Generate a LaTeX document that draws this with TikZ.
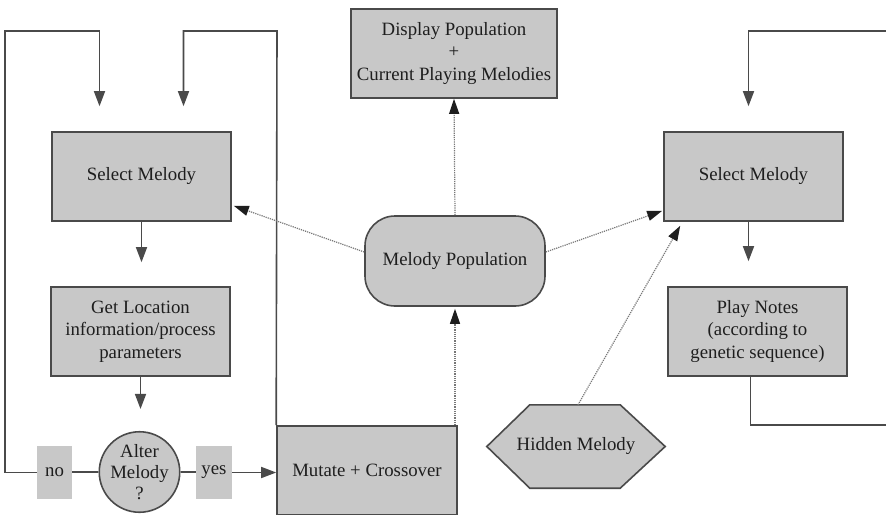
\documentclass[tikz,border=0pt]{standalone}
\usepackage{fontspec}
\setmainfont{Liberation Serif}
\usetikzlibrary{arrows.meta,calc}
\definecolor{boxfill}{HTML}{C8C8C8}
\definecolor{edge}{HTML}{4A4A4A}
\definecolor{ink}{HTML}{1E1E1E}
\pgfdeclarelayer{back}
\pgfsetlayers{back,main}
\begin{document}
\begin{tikzpicture}[x=1pt,y=-1pt,
  every node/.style={font=\fontsize{18.8}{22.5}\selectfont, text=ink},
  block/.style={draw=edge, fill=boxfill, line width=1.6pt, align=center, inner sep=0pt},
  tag/.style={fill=boxfill, inner sep=0pt, minimum width=35pt, minimum height=53pt},
  solidline/.style={draw=edge, line width=1.6pt},
  flow/.style={solidline, -{Triangle[length=15pt,width=11pt]}},
  dots/.style={draw=edge!75, line width=1.2pt, densely dotted,
               -{Triangle[length=15pt,width=10pt,color=ink]}},
]
\useasboundingbox (0,0) rectangle (886,514);

% left loop: selection and mutation
\node[block, minimum width=179pt, minimum height=89pt] (sel1) at (141.5,176.5) {Select Melody};
\node[block, minimum width=179pt, minimum height=89pt] (loc) at (140.5,331.5)
  {Get Location\\information/process\\parameters};
\node[block, circle, minimum size=74pt, font=\fontsize{18.8}{21}\selectfont] (alter) at (139.5,472)
  {Alter\\Melody\\?};
\node[block, minimum width=180pt, minimum height=89pt] (mut) at (367,470.5) {Mutate + Crossover};

% centre: population and display
\node[block, minimum width=206pt, minimum height=89pt] (disp) at (454,53.5)
  {Display Population\\+\\Current Playing Melodies};
\node[block, rounded corners=30pt, minimum width=180pt, minimum height=90pt] (mp) at (455,261)
  {Melody Population};

% right loop: playback
\node[block, minimum width=179pt, minimum height=89pt] (sel2) at (753.5,176.5) {Select Melody};
\node[block, minimum width=179pt, minimum height=89pt] (play) at (757.5,331.5)
  {Play Notes\\(according to\\genetic sequence)};

% hidden melody: hexagon outline drawn behind its label
\node[inner sep=0pt, minimum width=178pt, minimum height=83pt] (hid) at (576,446.5) {Hidden Melody};
\begin{pgfonlayer}{back}
  \filldraw[draw=edge, fill=boxfill, line width=1.6pt, line join=miter]
    (hid.west) -- ($(hid.north west)+(43,0)$) -- ($(hid.north east)+(-45,0)$)
    -- (hid.east) -- ($(hid.south east)+(-45,0)$) -- ($(hid.south west)+(43,0)$) -- cycle;
\end{pgfonlayer}

% solid connectors
\draw[flow, shorten >=24pt] (sel1.south) -- (sel1.south |- loc.north);
\draw[flow, shorten >=22pt] (loc.south) -- (loc.south |- alter.north);
\draw[solidline] (alter.west) -- (alter.west -| 60,0);
\draw[solidline] (alter.east) -- (alter.east -| 205,0);
\node[tag] (no) at (54.5,472.5) {no};
\node[tag, minimum width=36pt] (yes) at (214,472.5) {yes};
\draw[flow] (yes.east) -- (yes.east -| mut.west);

\coordinate (loopA) at (5,31);
\coordinate (loopB) at (277,31);
\draw[flow, shorten >=25pt] (no.west) -| (loopA) -| ($(sel1.north)+(-42,0)$);
\draw[flow, shorten >=25pt] (mut.north west) -- (loopB) -| ($(sel1.north)+(42,0)$);

\coordinate (s2out) at ($(sel2.south)+(-5,0)$);
\draw[flow, shorten >=25pt] (s2out) -- (s2out |- play.north);
\coordinate (exitR) at (890,425);
\coordinate (entryR) at (890,31);
\draw[solidline] ($(play.south)+(-7,0)$) |- (exitR);
\draw[flow, shorten >=25pt] (entryR) -| (s2out |- sel2.north);

% dotted data flows
\draw[dots] (mp.north) -- (disp.south);
\draw[dots] (mp.south |- mut.north) -- ($(mp.south)+(0,2)$);
\draw[dots] ($(mp.west)+(0,-9)$) -- ($(sel1.south east)+(2,-16)$);
\draw[dots] ($(mp.east)+(0,-9)$) -- ($(sel2.south west)+(-1,-11)$);
\draw[dots] ($(hid.north)+(2,0)$) -- ($(sel2.south west)+(17,4)$);
\end{tikzpicture}
\end{document}
